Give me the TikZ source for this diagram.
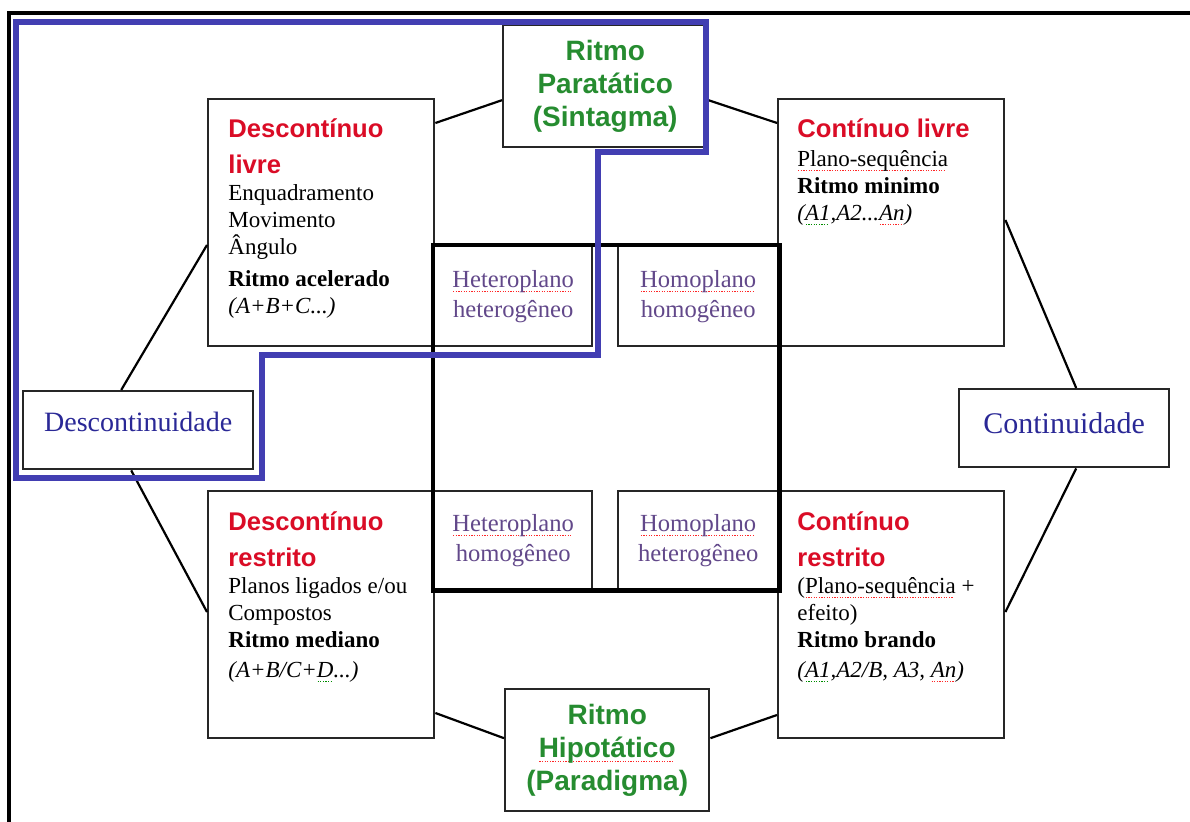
\documentclass[tikz,border=0pt]{standalone}
\usepackage{fontspec}
\setmainfont{Liberation Serif}
\setsansfont{Liberation Sans}
\usetikzlibrary{positioning}

\definecolor{headred}{RGB}{218,12,38}
\definecolor{headgreen}{RGB}{38,140,48}
\definecolor{zoneblue}{RGB}{66,62,178}
\definecolor{zonetext}{RGB}{42,40,150}
\definecolor{planetext}{RGB}{98,72,138}

% dotted spell-checker underlines
\newsavebox\markbox
\newcommand\markunder[2]{\sbox\markbox{#2}\rlap{\raisebox{-2.4pt}{\textcolor{#1}{\leaders\hbox to 1.3pt{\hss\rule{0.6pt}{0.5pt}\hss}\hskip\wd\markbox}}}\usebox\markbox}
\newcommand\redmark[1]{\markunder{red!85}{#1}}
\newcommand\greenmark[1]{\markunder{green!55!black}{#1}}
% red headings inside the big boxes
\newcommand\hd[1]{{\sffamily\bfseries\fontsize{12.8}{15}\selectfont\color{headred}#1}}

\begin{document}
\begin{tikzpicture}[x=0.5pt, y=-0.5pt,
  box/.style={draw=black!85, line width=1.2pt, inner sep=0pt},
  bigbox/.style={box, anchor=north west, minimum width=113pt, minimum height=123.5pt},
  boxtext/.style={anchor=north west, align=left, inner sep=0pt, font=\fontsize{11.5}{13.5}\selectfont},
  rhythm/.style={box, anchor=north west, align=center, text=headgreen, minimum width=102pt, minimum height=61pt,
    font=\sffamily\bfseries\fontsize{14}{16.5}\selectfont},
  zone/.style={box, anchor=north west, text=zonetext, minimum height=39pt},
  plane/.style={box, anchor=north west, align=center, text=planetext, minimum height=50pt,
    font=\fontsize{12.3}{15}\selectfont},
  link/.style={line width=1.1pt}]
\useasboundingbox (0,0) rectangle (1190,822);

% boxes
\node[rhythm] (sintagma)  at (502,24)  {Ritmo\\Paratático\\(Sintagma)};
\node[rhythm] (paradigma) at (504,688) {Ritmo\\\redmark{Hipotático}\\(Paradigma)};
\node[bigbox] (dlivre)    at (207,98)  {};
\node[bigbox] (clivre)    at (777,98)  {};
\node[bigbox] (drestrito) at (207,490) {};
\node[bigbox] (crestrito) at (777,490) {};
\node[zone, minimum width=115pt, text depth=8pt, font=\fontsize{14}{16}\selectfont] (descont) at (22,390)  {Descontinuidade};
\node[zone, minimum width=105pt, text depth=5pt, font=\fontsize{15}{17}\selectfont] (cont)    at (958,388) {Continuidade};

% the four planes in the middle
\node[plane, minimum width=79pt] (hethet) at (433,245) {\redmark{Heteroplano}\\heterogêneo};
\node[plane, minimum width=80pt] (homhom) at (617,245) {\redmark{Homoplano}\\homogêneo};
\node[plane, minimum width=79pt, minimum height=49pt] (hethom) at (433,490) {\redmark{Heteroplano}\\homogêneo};
\node[plane, minimum width=80pt, minimum height=49pt] (homhet) at (617,490) {\redmark{Homoplano}\\heterogêneo};
\draw[line width=2.2pt] (hethet.north west) rectangle (homhet.south east);

% texts of the big boxes
\node[boxtext] (dlivre text) at ([shift={(10.5pt,-10pt)}]dlivre.north west)
  {\hd{Descontínuo}\\[4.5pt]\hd{livre}\\Enquadramento\\Movimento\\Ângulo\\[2.5pt]\textbf{Ritmo acelerado}\\\textit{(A+B+C...)}};
\node[boxtext] (clivre text) at ([shift={(10pt,-10pt)}]clivre.north west)
  {\hd{Contínuo livre}\\[1pt]\redmark{Plano-sequência}\\\textbf{Ritmo minimo}\\\textit{(\greenmark{A1},A2...\redmark{An})}};
\node[boxtext] (drestrito text) at ([shift={(10.5pt,-10.5pt)}]drestrito.north west)
  {\hd{Descontínuo}\\[4.5pt]\hd{restrito}\\Planos ligados e/ou\\Compostos\\\textbf{Ritmo mediano}\\[1.5pt]\textit{(A+B/C+\greenmark{D}...)}};
\node[boxtext] (crestrito text) at ([shift={(10pt,-10.5pt)}]crestrito.north west)
  {\hd{Contínuo}\\[4.5pt]\hd{restrito}\\(\redmark{Plano-sequência} +\\efeito)\\\textbf{Ritmo brando}\\[1.5pt]\textit{(\greenmark{A1},A2/B, A3, \redmark{An})}};

% octagon of links
\draw[link] ([yshift=-12.5pt]dlivre.north east) -- ([yshift=-7pt]sintagma.west);
\draw[link] ([yshift=-7pt]sintagma.east) -- ([yshift=-12.5pt]clivre.north west);
\draw[link] ([yshift=-61pt]clivre.north east) -- ([xshift=6pt]cont.north);
\draw[link] ([xshift=6pt]cont.south) -- ([yshift=-61pt]crestrito.north east);
\draw[link] ([yshift=-112.5pt]crestrito.north west) -- ([yshift=6pt]paradigma.east);
\draw[link] ([yshift=6pt]paradigma.west) -- ([yshift=-111.5pt]drestrito.north east);
\draw[link] ([yshift=-61pt]drestrito.north west) -- ([xshift=-3.5pt]descont.south);
\draw[link] ([xshift=-8.5pt]descont.north) -- ([yshift=-73.5pt]dlivre.north west);

% frame and the blue zone
\draw[line width=2pt] (9,822) -- (9,13) -- (1190,13);
\draw[zoneblue, line width=2.6pt] (16,22) -| (706,152) -| (598,355) -| (262,478) -- (16,478) -- cycle;
\end{tikzpicture}
\end{document}
